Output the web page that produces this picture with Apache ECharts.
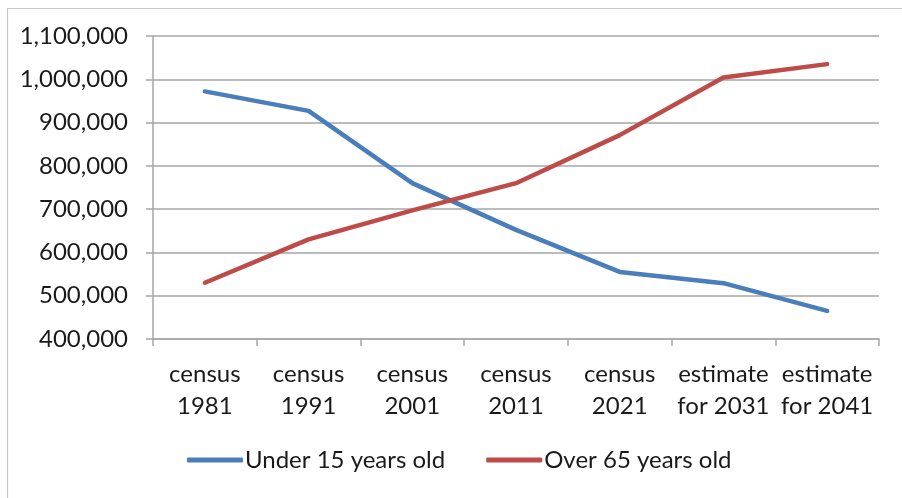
<!DOCTYPE html>
<html>
<head>
<meta charset="utf-8">
<script src="https://cdn.jsdelivr.net/npm/echarts@6/dist/echarts.min.js"></script>
<style>
  html, body { margin: 0; padding: 0; background: #fff; }
  #chart { width: 902px; height: 498px; }
</style>
</head>
<body>
<div id="chart"></div>
<script>
// Population by age group, census results and projections
const categories = ['census\n1981', 'census\n1991', 'census\n2001', 'census\n2011', 'census\n2021', 'estimate\nfor 2031', 'estimate\nfor 2041'];
const under15 = [972000, 927000, 760000, 652000, 555000, 529000, 465000];
const over65 = [530000, 630000, 697000, 760000, 871000, 1004000, 1035000];
const seriesNames = ['Under 15 years old', 'Over 65 years old'];

const font = 'Lato, "Open Sans", sans-serif';
const axisGray = '#a6a6a6';
const textColor = '#1a1a1a';

const chart = echarts.init(document.getElementById('chart'));
chart.setOption({
  animation: false,
  textStyle: { fontFamily: font },
  graphic: [{
    type: 'rect',
    left: 5, top: 6,
    shape: { width: 910, height: 510 },
    style: { fill: 'none', stroke: '#c8c8c8', lineWidth: 1.2 },
    silent: true
  }],
  grid: { left: 153, right: 23, top: 36, bottom: 159 },
  legend: {
    top: 448,
    left: 187,
    padding: 0,
    itemWidth: 56,
    itemHeight: 5,
    itemGap: 41,
    icon: 'roundRect',
    textStyle: { fontSize: 24, lineHeight: 24, color: textColor, fontFamily: font, padding: [0, 0, 0, -3] },
    data: seriesNames
  },
  xAxis: {
    type: 'category',
    data: categories,
    boundaryGap: true,
    axisLine: { lineStyle: { color: axisGray, width: 1.5 } },
    axisTick: { show: true, length: 7, alignWithLabel: false, lineStyle: { color: axisGray, width: 1.5 } },
    axisLabel: { fontSize: 24, color: textColor, lineHeight: 31.5, margin: 20, fontFamily: font, interval: 0 }
  },
  yAxis: {
    type: 'value',
    min: 400000,
    max: 1100000,
    interval: 100000,
    axisLine: { show: true, lineStyle: { color: axisGray, width: 1.5 } },
    axisTick: { show: true, length: 7, lineStyle: { color: axisGray, width: 1.5 } },
    splitLine: { lineStyle: { color: axisGray, width: 1.5 } },
    axisLabel: {
      fontSize: 24, color: textColor, margin: 25, fontFamily: font,
      formatter: v => v.toLocaleString('en-US')
    }
  },
  series: [
    {
      name: seriesNames[0], type: 'line', data: under15,
      symbol: 'none', lineStyle: { width: 4.5, color: '#4a7ebb', cap: 'round', join: 'round' },
      itemStyle: { color: '#4a7ebb' }
    },
    {
      name: seriesNames[1], type: 'line', data: over65,
      symbol: 'none', lineStyle: { width: 4.5, color: '#be4b48', cap: 'round', join: 'round' },
      itemStyle: { color: '#be4b48' }
    }
  ]
});
</script>
</body>
</html>
